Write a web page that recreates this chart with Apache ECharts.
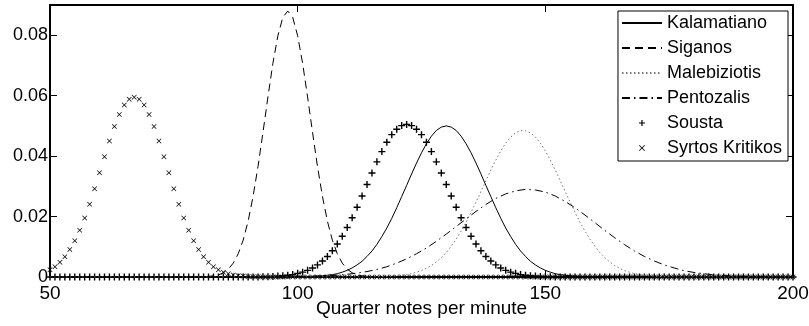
<!DOCTYPE html>
<html>
<head>
<meta charset="utf-8">
<script src="https://cdn.jsdelivr.net/npm/echarts@6/dist/echarts.min.js"></script>
<style>
  html, body { margin: 0; padding: 0; background: #fff; }
  #main { width: 809px; height: 326px; }
</style>
</head>
<body>
<div id="main"></div>
<script>
// tempo range on the x axis (quarter notes per minute)
const bpmMin = 50;
const bpmMax = 200;
const xTicks = [50, 100, 150, 200];

const names = ['Kalamatiano', 'Siganos', 'Malebiziotis', 'Pentozalis', 'Sousta', 'Syrtos Kritikos'];

// line series: first bpm, bpm step, densities
const kalamatianoFrom = 101;
const kalamatiano = [
  0, 0.0001, 0.0002, 0.0003, 0.0004, 0.0006, 0.0008, 0.0011, 0.0016,
  0.0022, 0.0030, 0.0040, 0.0052, 0.0068, 0.0086, 0.0108, 0.0134, 0.0162, 0.0194,
  0.0229, 0.0266, 0.0303, 0.0341, 0.0377, 0.0411, 0.0441, 0.0466, 0.0485, 0.0496,
  0.0500, 0.0496, 0.0485, 0.0466, 0.0441, 0.0411, 0.0377, 0.0341, 0.0303, 0.0266,
  0.0229, 0.0194, 0.0162, 0.0134, 0.0108, 0.0086, 0.0068, 0.0052, 0.0040, 0.0030,
  0.0022, 0.0016, 0.0011, 0.0008, 0.0006, 0.0004, 0.0003, 0.0002, 0.0001, 0
];

const siganosFrom = 80;
const siganos = [
  0, 0.0001, 0.0002, 0.0004, 0.0007, 0.0014, 0.0026, 0.0046, 0.0077, 0.0122,
  0.0185, 0.0267, 0.0366, 0.0479, 0.0596, 0.0707, 0.0798, 0.0859, 0.0880, 0.0859,
  0.0798, 0.0707, 0.0596, 0.0479, 0.0366, 0.0267, 0.0185, 0.0122, 0.0077, 0.0046,
  0.0026, 0.0014, 0.0007, 0.0004, 0.0002, 0.0001, 0
];

const malebiziotisFrom = 115;
const malebiziotis = [
  0, 0.0001, 0.0001, 0.0002, 0.0003, 0.0004,
  0.0006, 0.0008, 0.0011, 0.0016, 0.0021, 0.0029, 0.0038, 0.0050, 0.0064, 0.0081,
  0.0102, 0.0125, 0.0152, 0.0181, 0.0214, 0.0248, 0.0283, 0.0319, 0.0354, 0.0387,
  0.0417, 0.0443, 0.0463, 0.0477, 0.0484, 0.0484, 0.0477, 0.0463, 0.0443, 0.0417,
  0.0387, 0.0354, 0.0319, 0.0283, 0.0248, 0.0214, 0.0181, 0.0152, 0.0125, 0.0102,
  0.0081, 0.0064, 0.0050, 0.0038, 0.0029, 0.0021, 0.0016, 0.0011, 0.0008, 0.0006,
  0.0004, 0.0003, 0.0002, 0.0001, 0.0001, 0
];

const pentozalisFrom = 98;   // every 2 bpm
const pentozalis = [
  0, 0.0001, 0.0002, 0.0003, 0.0004, 0.0006, 0.0009, 0.0013, 0.0018, 0.0025,
  0.0034, 0.0046, 0.0060, 0.0077, 0.0096, 0.0118, 0.0142, 0.0167, 0.0192, 0.0217,
  0.0240, 0.0260, 0.0275, 0.0285, 0.0290, 0.0288, 0.0281, 0.0268, 0.0250, 0.0229,
  0.0205, 0.0180, 0.0154, 0.0130, 0.0107, 0.0086, 0.0068, 0.0053, 0.0040, 0.0030,
  0.0021, 0.0015, 0.0011, 0.0007, 0.0005, 0.0003, 0.0002, 0.0001, 0.0001, 0, 0
];

// marker series: one value per bpm, 50 ... 200
const sousta = [
  0, 0, 0, 0, 0, 0, 0, 0, 0, 0,                                                  // 50
  0, 0, 0, 0, 0, 0, 0, 0, 0, 0,                                                  // 60
  0, 0, 0, 0, 0, 0, 0, 0, 0, 0,                                                  // 70
  0, 0, 0, 0, 0, 0, 0, 0, 0, 0,                                                  // 80
  0, 0, 0, 0.0001, 0.0001, 0.0002, 0.0003, 0.0004, 0.0006, 0.0008,               // 90
  0.0012, 0.0016, 0.0022, 0.0030, 0.0040, 0.0053, 0.0068, 0.0087, 0.0109, 0.0135, // 100
  0.0164, 0.0196, 0.0231, 0.0268, 0.0306, 0.0344, 0.0381, 0.0415, 0.0446, 0.0471, // 110
  0.0489, 0.0501, 0.0505, 0.0501, 0.0489, 0.0471, 0.0446, 0.0415, 0.0381, 0.0344, // 120
  0.0306, 0.0268, 0.0231, 0.0196, 0.0164, 0.0135, 0.0109, 0.0087, 0.0068, 0.0053, // 130
  0.0040, 0.0030, 0.0022, 0.0016, 0.0012, 0.0008, 0.0006, 0.0004, 0.0003, 0.0002, // 140
  0.0001, 0.0001, 0, 0, 0, 0, 0, 0, 0, 0,                                        // 150
  0, 0, 0, 0, 0, 0, 0, 0, 0, 0,                                                  // 160
  0, 0, 0, 0, 0, 0, 0, 0, 0, 0,                                                  // 170
  0, 0, 0, 0, 0, 0, 0, 0, 0, 0,                                                  // 180
  0, 0, 0, 0, 0, 0, 0, 0, 0, 0,                                                  // 190
  0                                                                              // 200
];

const syrtosKritikos = [
  0.0024, 0.0034, 0.0049, 0.0067, 0.0091, 0.0120, 0.0155, 0.0195, 0.0241, 0.0292, // 50
  0.0345, 0.0398, 0.0450, 0.0498, 0.0538, 0.0569, 0.0588, 0.0595, 0.0588, 0.0569, // 60
  0.0538, 0.0498, 0.0450, 0.0398, 0.0345, 0.0292, 0.0241, 0.0195, 0.0155, 0.0120, // 70
  0.0091, 0.0067, 0.0049, 0.0034, 0.0024, 0.0016, 0.0011, 0.0007, 0.0004, 0.0003, // 80
  0.0002, 0.0001, 0.0001, 0, 0, 0, 0, 0, 0, 0,                                   // 90
  0, 0, 0, 0, 0, 0, 0, 0, 0, 0,                                                  // 100
  0, 0, 0, 0, 0, 0, 0, 0, 0, 0,                                                  // 110
  0, 0, 0, 0, 0, 0, 0, 0, 0, 0,                                                  // 120
  0, 0, 0, 0, 0, 0, 0, 0, 0, 0,                                                  // 130
  0, 0, 0, 0, 0, 0, 0, 0, 0, 0,                                                  // 140
  0, 0, 0, 0, 0, 0, 0, 0, 0, 0,                                                  // 150
  0, 0, 0, 0, 0, 0, 0, 0, 0, 0,                                                  // 160
  0, 0, 0, 0, 0, 0, 0, 0, 0, 0,                                                  // 170
  0, 0, 0, 0, 0, 0, 0, 0, 0, 0,                                                  // 180
  0, 0, 0, 0, 0, 0, 0, 0, 0, 0,                                                  // 190
  0                                                                              // 200
];

const font = "'Liberation Sans', Arial, sans-serif";
const plusPath = 'path://M4,0H6V4H10V6H6V10H4V6H0V4H4Z';
const crossPath = 'path://M0,1L1,0L5,4L9,0L10,1L6,5L10,9L9,10L5,6L1,10L0,9L4,5Z';

function curve(from, step, values) {
  const pts = [[bpmMin, 0]];
  values.forEach((v, i) => pts.push([from + i * step, v]));
  pts.push([bpmMax, 0]);
  return pts;
}
function markers(values) {
  return values.map((v, i) => [bpmMin + i, v]);
}

function lineSeries(name, data, type, color) {
  return {
    name, type: 'line', data, symbol: 'none', smooth: false,
    lineStyle: { color: color || '#000', width: 1, type },
    itemStyle: { color: color || '#000' },
    animation: false
  };
}
function markerSeries(name, data, symbol, size) {
  return {
    name, type: 'scatter', data, symbol, symbolSize: size,
    itemStyle: { color: '#000', opacity: 1 },
    animation: false
  };
}

const chart = echarts.init(document.getElementById('main'));

const axisCommon = {
  axisLine: { show: true, onZero: false, lineStyle: { color: '#000', width: 2 } },
  axisTick: { show: true, inside: true, length: 7, lineStyle: { color: '#000', width: 1 } },
  splitLine: { show: false }
};

// line entries in the legend: hide the marker dot ECharts puts on the line icon
const legendData = names.map((n, i) => i < 4 ? { name: n, itemStyle: { opacity: 0 } } : { name: n });

chart.setOption({
  backgroundColor: '#fff',
  animation: false,
  grid: { left: 50, right: 16, top: 5, bottom: 49, containLabel: false, outerBoundsMode: 'none' },
  legend: {
    orient: 'vertical', right: 21, top: 11,
    padding: [3, 6, 4, 3],
    borderColor: '#000', borderWidth: 1, backgroundColor: '#fff',
    itemWidth: 40, itemHeight: 6, itemGap: 7,
    textStyle: { fontFamily: font, fontSize: 18, color: '#000' },
    data: legendData
  },
  xAxis: [
    Object.assign({
      type: 'value', min: bpmMin, max: bpmMax, interval: 50,
      name: 'Quarter notes per minute', nameLocation: 'middle', nameGap: 22,
      nameMoveOverlap: false,
      nameTextStyle: { fontFamily: font, fontSize: 19, color: '#000' },
      axisLabel: { fontFamily: font, fontSize: 19, color: '#000', margin: 7,
        customValues: xTicks }
    }, axisCommon),
    Object.assign({
      type: 'value', position: 'top', min: bpmMin, max: bpmMax, interval: 50,
      axisLabel: { show: false }
    }, axisCommon)
  ],
  yAxis: [
    Object.assign({
      type: 'value', min: 0, max: 0.09, interval: 0.02,
      axisLabel: { fontFamily: font, fontSize: 18, color: '#000', margin: 2, showMaxLabel: false }
    }, axisCommon),
    Object.assign({
      type: 'value', position: 'right', min: 0, max: 0.09, interval: 0.02,
      axisLabel: { show: false }
    }, axisCommon)
  ],
  series: [
    lineSeries('Kalamatiano', curve(kalamatianoFrom, 1, kalamatiano), 'solid'),
    lineSeries('Siganos', curve(siganosFrom, 1, siganos), [8, 5]),
    lineSeries('Malebiziotis', curve(malebiziotisFrom, 1, malebiziotis), [1.5, 2.5], '#777'),
    lineSeries('Pentozalis', curve(pentozalisFrom, 2, pentozalis), [8, 4, 1.5, 4]),
    markerSeries('Sousta', markers(sousta), plusPath, 7),
    markerSeries('Syrtos Kritikos', markers(syrtosKritikos), crossPath, 5)
  ]
});
</script>
</body>
</html>
